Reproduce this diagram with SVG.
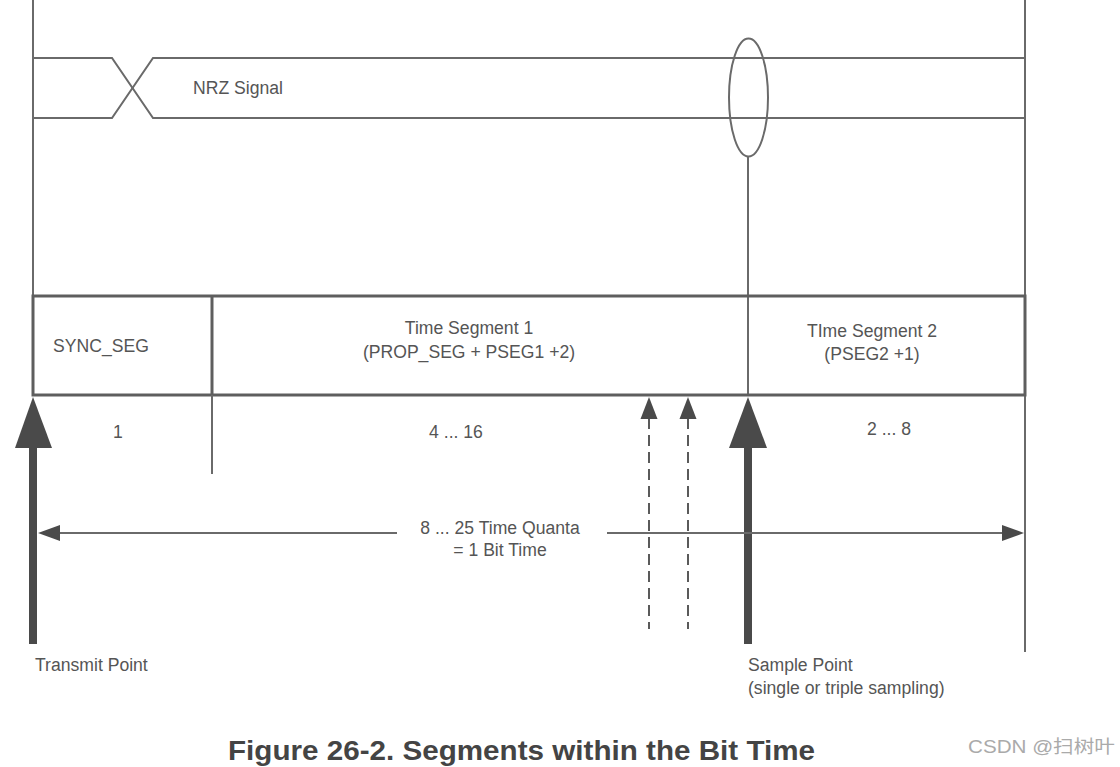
<svg xmlns="http://www.w3.org/2000/svg" width="1120" height="767" viewBox="0 0 1120 767">
<style>
.ln{stroke:#6a6a6a;stroke-width:2;fill:none}
.bx{stroke:#5e5e5e;stroke-width:3;fill:none}
.t{font-family:"Liberation Sans",Arial,sans-serif;font-size:17.6px;fill:#555}
.c{text-anchor:middle}
.thick{stroke:#4a4a4a;stroke-width:8}
.dash{stroke:#5a5a5a;stroke-width:2;stroke-dasharray:11 6}
.head{fill:#4a4a4a}
</style>
<rect width="1120" height="767" fill="#fff"/>
<g id="frame">
<line class="ln" x1="33" y1="0" x2="33" y2="296"/>
<line class="ln" x1="1025" y1="0" x2="1025" y2="652"/>
</g>
<g id="nrz-signal">
<polyline class="ln" points="33,58 112,58 153,118 1025,118"/>
<polyline class="ln" points="33,118 112,118 153,58 1025,58"/>
<text class="t" x="193" y="94">NRZ Signal</text>
</g>
<g id="sample-marker">
<ellipse class="ln" cx="748.5" cy="97.5" rx="19.5" ry="59"/>
<line class="ln" x1="748" y1="157" x2="748" y2="396"/>
</g>
<g id="segments">
<rect class="bx" x="33" y="296" width="992" height="99"/>
<line class="bx" x1="212" y1="296" x2="212" y2="395"/>
<line class="ln" x1="212" y1="395" x2="212" y2="474"/>
</g>
<g id="sync-seg">
<text class="t" x="53" y="352">SYNC_SEG</text>
<text class="t c" x="118" y="438">1</text>
</g>
<g id="time-seg1">
<text class="t c" x="469" y="334">Time Segment 1</text>
<text class="t c" x="469" y="358">(PROP_SEG + PSEG1 +2)</text>
<text class="t c" x="456" y="438">4 ... 16</text>
</g>
<g id="time-seg2">
<text class="t c" x="872" y="337">TIme Segment 2</text>
<text class="t c" x="872" y="360">(PSEG2 +1)</text>
<text class="t c" x="889" y="435">2 ... 8</text>
</g>
<g id="connectors">
<line class="thick" x1="33" y1="445" x2="33" y2="644"/>
<polygon class="head" points="33,397 52,448 15,448"/>
<line class="thick" x1="748" y1="445" x2="748" y2="644"/>
<polygon class="head" points="748,397 767,448 729,448"/>
<line class="dash" x1="649" y1="418" x2="649" y2="629"/>
<polygon class="head" points="649,397 657.5,419 640.5,419"/>
<line class="dash" x1="688" y1="418" x2="688" y2="629"/>
<polygon class="head" points="688,397 696.5,419 679.5,419"/>
<line class="ln" x1="55" y1="533" x2="397" y2="533"/>
<polygon class="head" points="38,533 60,525 60,541"/>
<line class="ln" x1="607" y1="533" x2="1005" y2="533"/>
<polygon class="head" points="1024,533 1002,525 1002,541"/>
</g>
<g id="quanta-label">
<text class="t c" x="500" y="534">8 ... 25 Time Quanta</text>
<text class="t c" x="500" y="556">= 1 Bit Time</text>
</g>
<g id="transmit-point">
<text class="t" x="35" y="671">Transmit Point</text>
</g>
<g id="sample-point">
<text class="t" x="748" y="671">Sample Point</text>
<text class="t" x="748" y="694">(single or triple sampling)</text>
</g>
<text x="228" y="760" font-family="'Liberation Sans',Arial,sans-serif" font-weight="bold" font-size="27" fill="#444" textLength="587" lengthAdjust="spacingAndGlyphs">Figure 26-2. Segments within the Bit Time</text>
<text x="968" y="753" font-family="'Liberation Sans','Noto Sans CJK SC',sans-serif" font-size="18" fill="#aaa" textLength="147" lengthAdjust="spacingAndGlyphs">CSDN @扫树叶</text>
</svg>
